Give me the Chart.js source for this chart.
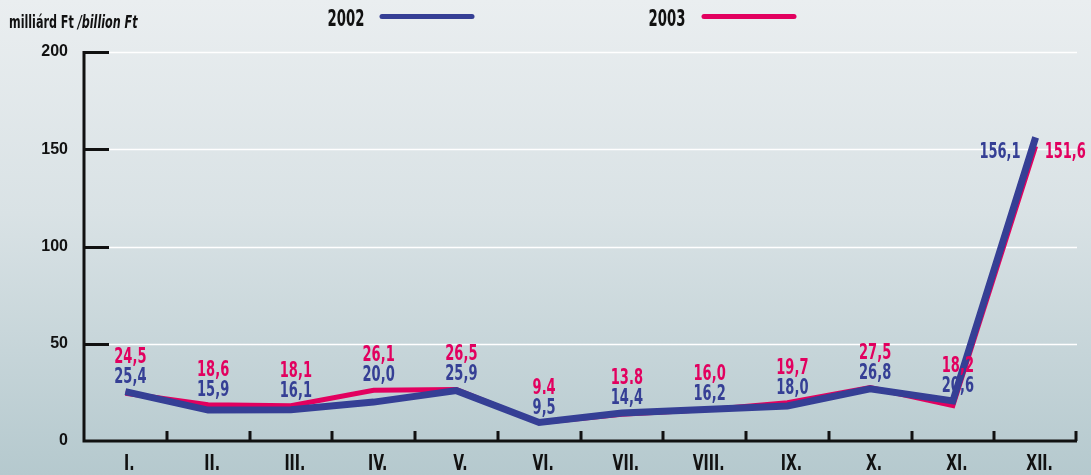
<!DOCTYPE html>
<html>
<head>
<meta charset="utf-8">
<script src="https://cdn.jsdelivr.net/npm/chart.js@4"></script>
<style>
  html, body { margin: 0; padding: 0; }
  body {
    width: 1091px; height: 475px; overflow: hidden;
    background: linear-gradient(to bottom, #eaeef0 0%, #d9e2e5 45%, #b5c9ce 100%);
  }
</style>
</head>
<body>
<canvas id="chart" width="1091" height="475"></canvas>
<script>
const months = ['I.', 'II.', 'III.', 'IV.', 'V.', 'VI.', 'VII.', 'VIII.', 'IX.', 'X.', 'XI.', 'XII.'];
const values2002 = [25.4, 15.9, 16.1, 20.0, 25.9, 9.5, 14.4, 16.2, 18.0, 26.8, 20.6, 156.1];
const values2003 = [24.5, 18.6, 18.1, 26.1, 26.5, 9.4, 13.8, 16.0, 19.7, 27.5, 18.2, 151.6];
const text2002 = ['25,4', '15,9', '16,1', '20,0', '25,9', '9,5', '14,4', '16,2', '18,0', '26,8', '20,6', '156,1'];
const text2003 = ['24,5', '18,6', '18,1', '26,1', '26,5', '9.4', '13.8', '16,0', '19,7', '27,5', '18,2', '151,6'];
const yTicks = [0, 50, 100, 150, 200];

const blue = '#353f95';
const pink = '#e2005f';
const cond = '"DejaVu Sans Condensed", "DejaVu Sans", sans-serif';

// szoveg vizszintesen osszenyomva (keskeny betu helyett), y = alapvonal
function squeezed(ctx, str, x, y, font, sx, align) {
  ctx.save();
  ctx.font = font;
  ctx.textAlign = align || 'center';
  ctx.textBaseline = 'alphabetic';
  ctx.translate(x, y);
  ctx.scale(sx, 1);
  ctx.fillText(str, 0, 0);
  ctx.restore();
}

const gridAndAxes = {
  id: 'gridAndAxes',
  beforeDatasetsDraw(chart) {
    const ctx = chart.ctx;
    const area = chart.chartArea;
    const y = chart.scales.y;
    ctx.save();
    ctx.strokeStyle = '#ffffff';
    ctx.lineWidth = 1.5;
    yTicks.forEach(v => {
      if (v === 0) return;
      const py = Math.round(y.getPixelForValue(v)) + 0.5;
      ctx.beginPath();
      ctx.moveTo(area.left, py);
      ctx.lineTo(area.right, py);
      ctx.stroke();
    });
    ctx.restore();
  },
  afterDatasetsDraw(chart) {
    const ctx = chart.ctx;
    const area = chart.chartArea;
    const x = chart.scales.x;
    const y = chart.scales.y;
    ctx.save();

    // tengelyek
    ctx.strokeStyle = '#111';
    ctx.lineWidth = 3;
    ctx.lineCap = 'butt';
    ctx.beginPath();
    ctx.moveTo(area.left, y.getPixelForValue(200) - 1);
    ctx.lineTo(area.left, area.bottom);
    ctx.lineTo(area.right, area.bottom);
    ctx.stroke();

    // y jelolok befele
    yTicks.forEach(v => {
      if (v === 0) return;
      const py = Math.round(y.getPixelForValue(v)) + 0.5;
      ctx.beginPath();
      ctx.moveTo(area.left, py);
      ctx.lineTo(area.left + 25, py);
      ctx.stroke();
    });
    // x jelolok a kategoriak hataran
    const step = (area.right - area.left) / months.length;
    for (let i = 1; i <= months.length; i++) {
      const px = Math.round(area.left + i * step) - (i === months.length ? 1 : 0);
      ctx.beginPath();
      ctx.moveTo(px, area.bottom);
      ctx.lineTo(px, area.bottom - 10);
      ctx.stroke();
    }

    // honap feliratok
    ctx.fillStyle = '#111';
    months.forEach((m, i) => {
      squeezed(ctx, m, x.getPixelForValue(i) + 4, 470, 'bold 20.5px ' + cond, 0.76);
    });

    // ertek cimkek
    const lf = 'bold 21px ' + cond;
    months.forEach((m, i) => {
      const px = x.getPixelForValue(i);
      const top = Math.min(y.getPixelForValue(values2002[i]), y.getPixelForValue(values2003[i]));
      if (i === months.length - 1) {
        const ly = y.getPixelForValue(values2003[i]) + 11.5;
        ctx.fillStyle = blue;
        squeezed(ctx, text2002[i], px - 15, ly, lf, 0.69, 'right');
        ctx.fillStyle = pink;
        squeezed(ctx, text2003[i], px + 9, ly, lf, 0.69, 'left');
        return;
      }
      ctx.fillStyle = blue;
      squeezed(ctx, text2002[i], px + 5, top - 9, lf, 0.69);
      ctx.fillStyle = pink;
      squeezed(ctx, text2003[i], px + 5, top - 29, lf, 0.69);
    });

    // legenda
    const legend = [
      { label: '2002', color: blue, tx: 346, x1: 382, x2: 472 },
      { label: '2003', color: pink, tx: 667, x1: 704, x2: 794 }
    ];
    ctx.lineCap = 'round';
    ctx.lineWidth = 5;
    legend.forEach(l => {
      ctx.fillStyle = '#111';
      squeezed(ctx, l.label, l.tx, 26, 'bold 23px ' + cond, 0.64);
      ctx.strokeStyle = l.color;
      ctx.beginPath();
      ctx.moveTo(l.x1, 16.5);
      ctx.lineTo(l.x2, 16.5);
      ctx.stroke();
    });

    // y tengely cim
    ctx.fillStyle = '#111';
    const t1 = 'milliárd Ft ';
    ctx.font = 'bold 17px ' + cond;
    const w = ctx.measureText(t1).width * 0.73;
    squeezed(ctx, t1, 9, 28, 'bold 17px ' + cond, 0.73, 'left');
    squeezed(ctx, '/billion Ft', 9 + w, 28, 'italic bold 17px ' + cond, 0.73, 'left');
    ctx.restore();
  }
};

const ctx = document.getElementById('chart').getContext('2d');
new Chart(ctx, {
  type: 'line',
  data: {
    labels: months,
    datasets: [
      {
        label: '2002',
        data: values2002,
        borderColor: blue,
        borderWidth: 7,
        pointRadius: 0,
        tension: 0,
        order: 0
      },
      {
        label: '2003',
        data: values2003,
        borderColor: pink,
        borderWidth: 5,
        pointRadius: 0,
        tension: 0,
        order: 1
      }
    ]
  },
  options: {
    responsive: false,
    animation: false,
    layout: { padding: { top: 52, right: 14, left: 0, bottom: 0 } },
    plugins: {
      legend: { display: false },
      tooltip: { enabled: false }
    },
    scales: {
      x: {
        offset: true,
        grid: { display: false, drawTicks: false },
        border: { display: false },
        ticks: { display: false },
        afterFit(scale) { scale.height = 34; }
      },
      y: {
        min: 0,
        max: 200,
        grid: { display: false, drawTicks: false },
        border: { display: false },
        afterBuildTicks(scale) { scale.ticks = yTicks.map(v => ({ value: v })); },
        ticks: {
          color: '#111',
          padding: 16,
          font: { family: '"Liberation Sans", Arial, sans-serif', size: 16, weight: 'bold' }
        },
        afterFit(scale) { scale.width = 84; }
      }
    }
  },
  plugins: [gridAndAxes]
});
</script>
</body>
</html>
